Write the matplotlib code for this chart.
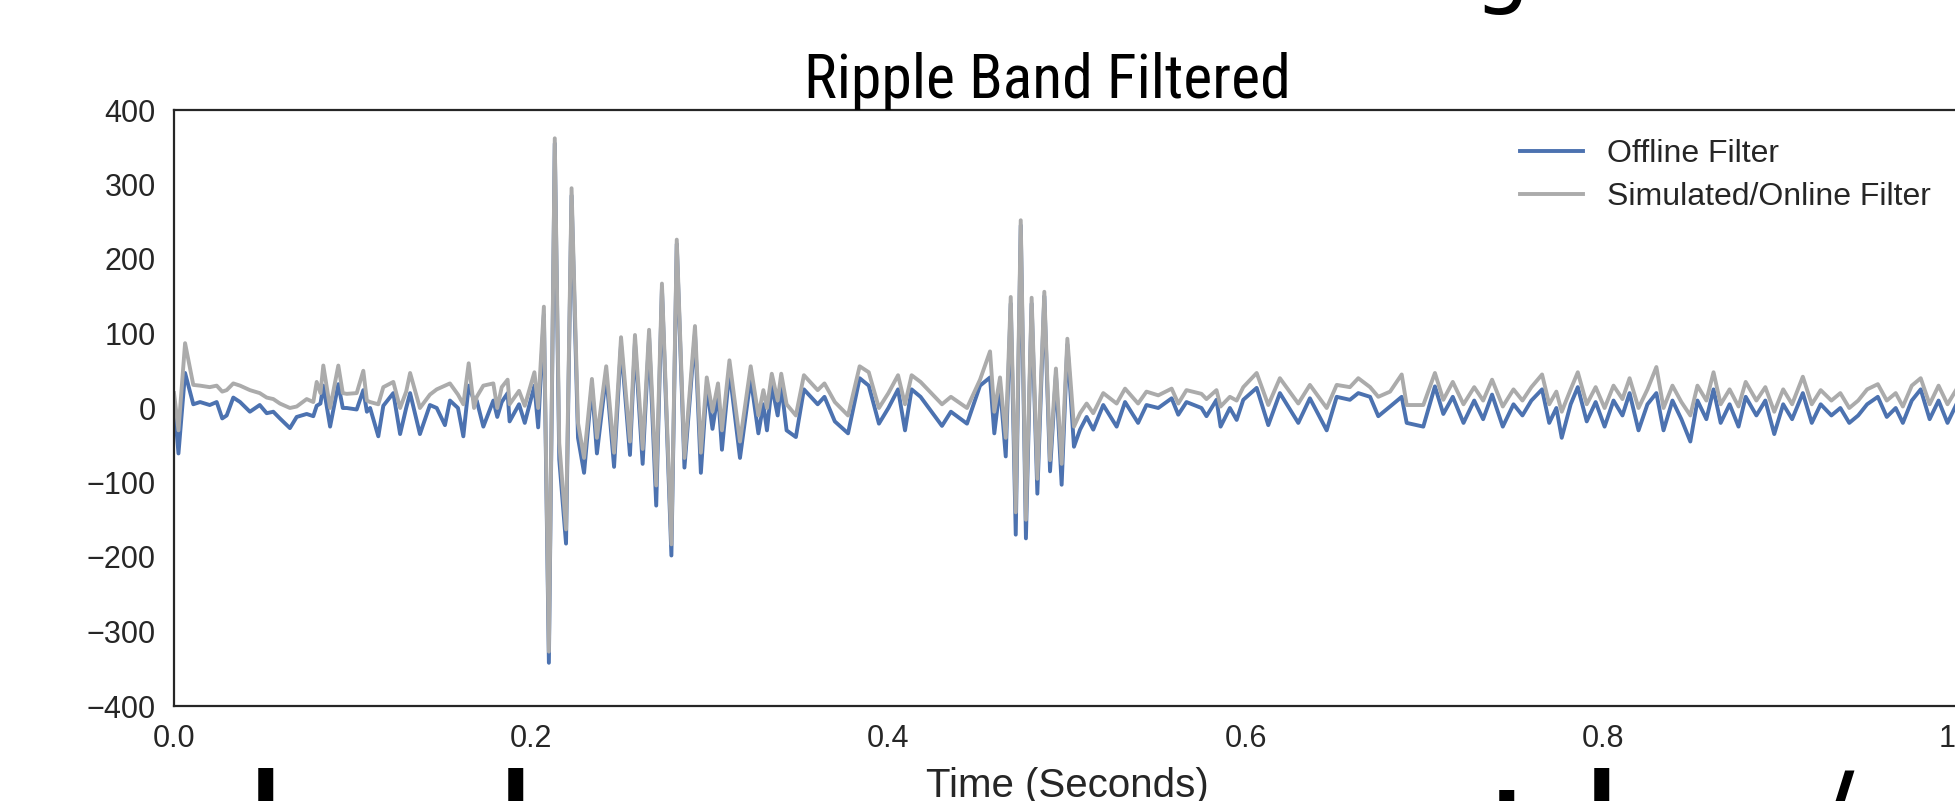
import matplotlib
matplotlib.use("Agg")
import matplotlib.pyplot as plt

# time (s) at the turning points of the traces
time_s = [
    0.000, 0.0025, 0.0062, 0.0108, 0.0146, 0.0200, 0.0239, 0.0270, 0.0295, 0.0332,
    0.0370, 0.0425, 0.0480, 0.0519, 0.0556, 0.0593, 0.0649, 0.0687, 0.0743, 0.0780,
    0.0799, 0.0820, 0.0836, 0.0874, 0.0920, 0.0945, 0.0967, 0.1023, 0.1060, 0.1080,
    0.1098, 0.1144, 0.1172, 0.1228, 0.1266, 0.1300, 0.1322, 0.1377, 0.1433, 0.1471,
    0.1517, 0.1545, 0.1590, 0.1620, 0.1650, 0.1680, 0.1695, 0.1732, 0.1788, 0.1810,
    0.1835, 0.1868, 0.1879, 0.1932, 0.1964, 0.2018, 0.2039, 0.2071, 0.2099, 0.2132,
    0.2157, 0.2195, 0.2226, 0.2262, 0.2296, 0.2340, 0.2368, 0.2420, 0.2464, 0.2503,
    0.2553, 0.2581, 0.2624, 0.2660, 0.2700, 0.2732, 0.2785, 0.2815, 0.2858, 0.2917,
    0.2950, 0.2983, 0.3015, 0.3046, 0.3068, 0.3110, 0.3169, 0.3229, 0.3272, 0.3300,
    0.3320, 0.3347, 0.3380, 0.3400, 0.3430, 0.3482, 0.3527, 0.3604, 0.3642, 0.3700,
    0.3774, 0.3839, 0.3890, 0.3947, 0.4000, 0.4054, 0.4093, 0.4130, 0.4180, 0.4300,
    0.4350, 0.4440, 0.4513, 0.4569, 0.4593, 0.4625, 0.4657, 0.4685, 0.4713, 0.4741,
    0.4770, 0.4802, 0.4834, 0.4873, 0.4905, 0.4938, 0.4970, 0.5002, 0.5039, 0.5073,
    0.5110, 0.5147, 0.5203, 0.5278, 0.5325, 0.5398, 0.5445, 0.5511, 0.5586, 0.5623,
    0.5669, 0.5753, 0.5781, 0.5837, 0.5860, 0.5912, 0.5950, 0.5987, 0.6062, 0.6127,
    0.6192, 0.6295, 0.6360, 0.6454, 0.6510, 0.6584, 0.6631, 0.6697, 0.6743, 0.6809,
    0.6874, 0.6902, 0.6995, 0.7060, 0.7107, 0.716, 0.722, 0.728, 0.733, 0.738,
    0.744, 0.750, 0.755, 0.760, 0.766, 0.770, 0.774, 0.777, 0.782, 0.786,
    0.791, 0.796, 0.801, 0.806, 0.811, 0.815, 0.820, 0.825, 0.830, 0.834,
    0.839, 0.844, 0.849, 0.853, 0.858, 0.862, 0.866, 0.871, 0.876, 0.880,
    0.886, 0.891, 0.896, 0.901, 0.906, 0.912, 0.917, 0.922, 0.928, 0.933,
    0.938, 0.943, 0.948, 0.954, 0.959, 0.964, 0.968, 0.973, 0.978, 0.983,
    0.988, 0.993, 0.998,
]

offline = [
    10, -61, 47, 5, 8, 4, 8, -14, -10, 14,
    8, -5, 4, -7, -5, -14, -27, -12, -8, -11,
    3, 6, 30, -25, 32, 0, 0, -2, 24, -5,
    0, -38, 3, 20, -35, 0, 20, -35, 4, 0,
    -23, 10, 0, -38, 30, 10, 10, -25, 10, -12,
    8, 20, -18, 5, -20, 30, -26, 125, -342, 355,
    -69, -182, 285, -40, -87, 30, -61, 45, -79, 85,
    -63, 88, -75, 95, -131, 160, -198, 220, -80, 100,
    -87, 30, -28, 20, -56, 50, -67, 40, -34, 5,
    -30, 30, -10, 30, -30, -39, 25, 5, 15, -18,
    -34, 40, 30, -21, 0, 25, -30, 25, 15, -24,
    -5, -21, 30, 41, -34, 30, -65, 140, -170, 245,
    -175, 140, -115, 150, -85, 45, -103, 85, -52, -29,
    -12, -29, 4, -25, 8, -20, 4, 0, 13, -9,
    8, 0, -11, 11, -25, 0, -16, 11, 27, -23,
    20, -20, 13, -30, 15, 11, 20, 15, -11, 2,
    15, -20, -25, 29, -8, 15, -20, 10, -15, 18,
    -25, 5, -10, 10, 25, -20, 0, -40, 5, 28,
    -18, 8, -25, 10, -10, 20, -30, 5, 20, -30,
    10, -15, -45, 10, -15, 25, -20, 5, -25, 15,
    -10, 10, -35, 5, -15, 20, -20, 5, -10, 0,
    -20, -10, 5, 15, -12, 0, -20, 10, 25, -15,
    10, -20, 5,
]

online = [
    20, -30, 87, 31, 30, 28, 30, 22, 24, 33,
    30, 24, 20, 14, 12, 6, 0, 2, 12, 8,
    35, 20, 57, 0, 57, 20, 19, 20, 50, 10,
    8, 5, 28, 35, 0, 22, 47, 0, 18, 25,
    30, 33, 18, 5, 60, 0, 15, 30, 33, 0,
    28, 38, 5, 23, 3, 48, 0, 136, -327, 362,
    -47, -163, 295, -20, -67, 39, -40, 56, -60, 95,
    -45, 98, -55, 105, -104, 167, -183, 226, -67, 110,
    -60, 41, -5, 33, -30, 64, -45, 56, -10, 24,
    0, 46, 10, 46, 5, -10, 44, 24, 33, 8,
    -10, 56, 48, 0, 20, 44, 5, 44, 35, 5,
    15, 0, 38, 76, -5, 41, -40, 149, -140, 252,
    -150, 148, -95, 156, -70, 53, -75, 93, -25, -7,
    6, -7, 20, 6, 26, 6, 22, 17, 26, 6,
    24, 19, 12, 24, 2, 15, 10, 28, 47, 4,
    40, 6, 31, 0, 31, 28, 40, 28, 15, 22,
    45, 4, 4, 47, 11, 35, 5, 28, 10, 38,
    2, 25, 10, 28, 45, 5, 22, -5, 25, 48,
    5, 28, 0, 30, 12, 40, 0, 25, 55, 0,
    30, 8, -10, 30, 10, 48, 5, 25, 2, 35,
    10, 28, -5, 25, 5, 42, 5, 24, 10, 20,
    0, 10, 25, 32, 10, 20, 2, 30, 40, 5,
    30, 5, 25,
]

x_ticks = [0.0, 0.2, 0.4, 0.6, 0.8, 1.0]
y_ticks = [-400, -300, -200, -100, 0, 100, 200, 300, 400]

plt.rcParams['font.family'] = ['Liberation Sans', 'DejaVu Sans']
plt.rcParams['axes.unicode_minus'] = True

fig = plt.figure(figsize=(19.56, 8.01), dpi=100)
ax = fig.add_axes([174 / 1956, 1 - 706 / 801, 1786 / 1956, 596 / 801])

ax.plot(time_s, offline, color='#4C72B0', lw=2.8, label='Offline Filter')
ax.plot(time_s, online, color='#ABABAB', lw=2.8, label='Simulated/Online Filter')

ax.set_xlim(0, 1)
ax.set_ylim(-400, 400)
ax.set_xticks(x_ticks)
ax.set_xticklabels(['{:.1f}'.format(v) for v in x_ticks])
ax.set_yticks(y_ticks)
ax.tick_params(length=0, pad=13, labelsize=22, colors='#262626')
for s in ax.spines.values():
    s.set_color('#262626')
    s.set_linewidth(1.6)

ax.set_title('Ripple Band Filtered', fontsize=44.5, pad=5, x=0.489,
             family=['Liberation Sans Narrow', 'Roboto Condensed', 'DejaVu Sans'])
ax.set_xlabel('Time (Seconds)', fontsize=29, labelpad=9, color='#262626')
ax.legend(loc='upper right', frameon=False, fontsize=23, labelcolor='#262626',
          borderaxespad=0.5, handlelength=2.0, handletextpad=0.75, labelspacing=0.42)

# fragments of the slide text that the crop cuts through
frag_font = dict(fontsize=62, fontweight='bold', family=['DejaVu Sans'], color='black')
fig.text(1501 / 1956, 1 + 4 / 801, 'g', ha='center', va='baseline',
         fontsize=64, family=['DejaVu Sans'], color='black')
fig.text(266 / 1956, 1 - 768 / 801, 'l', ha='center', va='top', **frag_font)
fig.text(515 / 1956, 1 - 768 / 801, 'l', ha='center', va='top', **frag_font)
fig.text(1507 / 1956, 1 - 790 / 801, 'i', ha='center', va='top', **frag_font)
fig.text(1602 / 1956, 1 - 768 / 801, 'l', ha='center', va='top', **frag_font)
fig.text(1839 / 1956, 1 - 768 / 801, '/', ha='center', va='top', **frag_font)

fig.savefig('out.png', dpi=100)
